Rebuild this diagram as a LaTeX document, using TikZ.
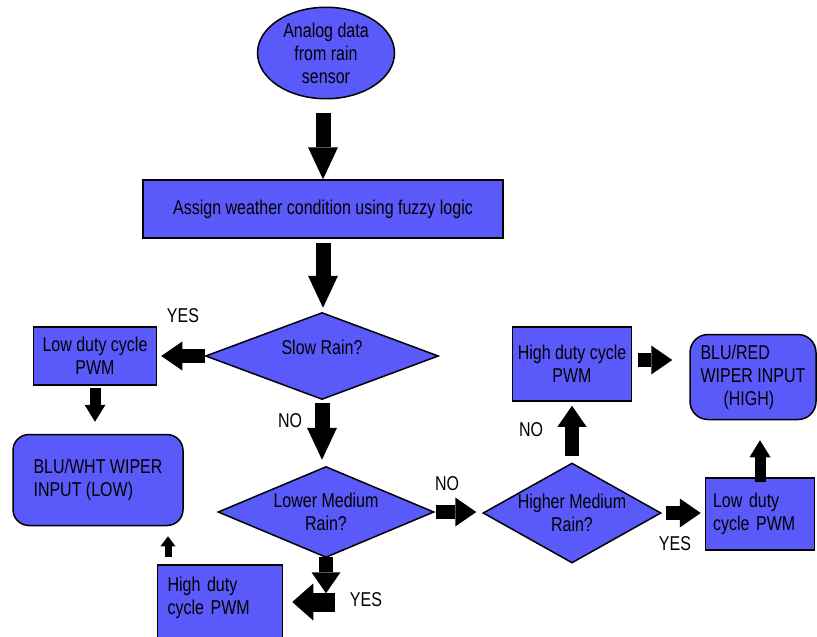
\documentclass[tikz,border=0pt]{standalone}
\usepackage{fontspec}
\setmainfont[FakeStretch=0.8]{Liberation Sans}
\definecolor{boxblue}{RGB}{90, 90, 250}
\usetikzlibrary{positioning, shapes.geometric, arrows.meta}

\begin{document}
\begin{tikzpicture}[x=1pt, y=-1pt,
		every node/.style={font=\fontsize{20}{23}\selectfont},
		proc/.style={draw, line width=1.5pt, fill=boxblue, align=center, inner sep=2pt},
		decision/.style={draw, diamond, line width=1.5pt, fill=boxblue, align=center, inner sep=0pt},
		wiper/.style={draw, line width=1.5pt, fill=boxblue, rounded corners=16pt, align=left, inner xsep=0pt},
		bigarr/.style={line width=15pt, -{Triangle[length=32pt 0 0, width=30pt 0 0, line width=0pt 0 0]}},
		midarr/.style={line width=14pt, -{Triangle[length=21pt 0 0, width=29pt 0 0, line width=0pt 0 0]}},
		smallarr/.style={line width=11pt, -{Triangle[length=17pt 0 0, width=21pt 0 0, line width=0pt 0 0]}},
		tinyarr/.style={line width=7pt, -{Triangle[length=10pt 0 0, width=15pt 0 0, line width=0pt 0 0]}},
		fatarr/.style={line width=19pt, -{Triangle[length=21pt 0 0, width=37pt 0 0, line width=0pt 0 0]}}
		]
		\useasboundingbox (0,0) rectangle (817,637);
		\clip (0,0) rectangle (817,637);
		
		\node[proc, ellipse, minimum width=137pt, minimum height=91pt] (src) at (326,53) {Analog data\\from rain\\sensor};
		\node[proc, minimum width=360pt, minimum height=58pt] (fz) at (323,209) {Assign weather condition using fuzzy logic};
		\node[decision, aspect=2.68, minimum width=233pt, minimum height=87pt] (d1) at (322,356) {\raisebox{9pt}[\height][\depth]{Slow Rain?}};
		\node[proc, minimum width=123pt, minimum height=58pt] (p1) at (95,356) {Low duty cycle\\PWM};
		\node[wiper, minimum width=170pt, minimum height=91pt] (w1) at (98,480) {BLU/WHT WIPER\\INPUT (LOW)};
		\node[proc, align=left, inner xsep=0pt, text width=105pt, minimum width=125pt, minimum height=84pt] (p3) at (220,607) {High duty\\cycle PWM\\\mbox{}};
		\node[decision, aspect=2.37, minimum width=216pt, minimum height=91pt] (d2) at (326,512) {Lower Medium\\Rain?};
		\node[decision, aspect=1.78, minimum width=178pt, minimum height=100pt] (d3) at (572,513) {Higher Medium\\Rain?};
		\node[proc, minimum width=119pt, minimum height=74pt] (p2) at (572,364) {High duty cycle\\PWM};
		\node[wiper, rounded corners=18pt, minimum width=126pt, minimum height=85pt] (w2) at (753,377) {BLU/RED\\WIPER INPUT\\\hspace*{23pt}(HIGH)};
		\node[proc, align=left, inner xsep=0pt, text width=94pt, minimum width=109pt, minimum height=72pt] (p4) at (760,514) {Low duty\\cycle PWM};
		
		% block arrows
		\draw[bigarr, shorten <=14pt] (src.south -| fz) -- (fz.north);
		\draw[bigarr, shorten <=4pt, shorten >=4pt] (fz) -- (fz |- d1.north);
		\draw[midarr, shorten >=4pt] (d1.west) -- (d1.west -| p1.east);
		\draw[smallarr, shorten <=2pt, shorten >=12pt] (p1) -- (p1 |- w1.north);
		\draw[bigarr, shorten <=3pt, shorten >=6pt] (d1) -- (d1 |- d2.north);
		\draw[midarr, shorten <=1pt, shorten >=6pt] (d2) -- (d2 -| d3.west);
		\draw[midarr, shorten <=6pt, shorten >=4pt] (d3) -- (d3 |- p2.south);
		\draw[midarr, shorten <=6pt, shorten >=17pt] ([yshift=4pt]p2.east) -- ([yshift=4pt]p2.east -| w2.west);
		\draw[midarr, shorten <=4pt, shorten >=4pt] (d3) -- (d3 -| p4.west);
		\draw[smallarr, shorten <=-5pt, shorten >=20pt] (p4) -- (p4 |- w2.south);
		\draw[tinyarr, shorten <=7pt, shorten >=10pt] ([xshift=-52pt]p3.north) -- ([xshift=-52pt]p3.north |- w1.south);
		\draw[midarr, shorten <=-1pt] (d2.south) -- ++(0,35);
		\coordinate (yl) at (335,602);
		\draw[fatarr, shorten >=9pt] (yl) -- (yl -| p3.east);
		
		% labels
		\node at (183,316) {YES};
		\node at (290,421) {NO};
		\node at (447,484) {NO};
		\node at (531,430) {NO};
		\node at (675,544) {YES};
		\node at (366,600) {YES};
		
	\end{tikzpicture}
\end{document}
